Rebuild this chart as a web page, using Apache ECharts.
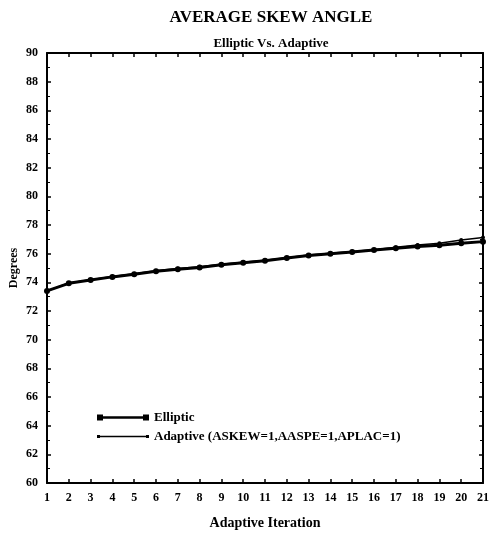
<!DOCTYPE html>
<html>
<head>
<meta charset="utf-8">
<script src="https://cdn.jsdelivr.net/npm/echarts@6/dist/echarts.min.js"></script>
<style>
html, body { margin: 0; padding: 0; background: #fff; }
#chart { width: 489px; height: 535px; }
</style>
</head>
<body>
<div id="chart"></div>
<script>
// iterations 1..21
const iterations = ['1', '2', '3', '4', '5', '6', '7', '8', '9', '10', '11', '12', '13', '14', '15', '16', '17', '18', '19', '20', '21']
const elliptic = [73.4, 73.93, 74.16, 74.38, 74.57, 74.77, 74.92, 75.04, 75.22, 75.37, 75.5, 75.7, 75.88, 76.0, 76.12, 76.25, 76.38, 76.5, 76.58, 76.72, 76.84]
const adaptive = [73.4, 73.95, 74.18, 74.4, 74.6, 74.8, 74.96, 75.08, 75.26, 75.4, 75.54, 75.72, 75.9, 76.03, 76.15, 76.28, 76.44, 76.6, 76.72, 76.95, 77.12]

const font = 'Liberation Serif'
const black = '#000'

const myChart = echarts.init(document.getElementById('chart'))

const tickStyle = { show: true, inside: true, length: 4, lineStyle: { color: black, width: 1.5 } }

myChart.setOption({
    animation: false,
    title: [
        {
            text: 'AVERAGE SKEW ANGLE',
            left: 266,
            top: 4,
            textAlign: 'center',
            textStyle: { fontFamily: font, fontWeight: 'bold', fontSize: 17, color: black }
        },
        {
            text: 'Elliptic Vs. Adaptive',
            left: 266,
            top: 32,
            textAlign: 'center',
            textStyle: { fontFamily: font, fontWeight: 'bold', fontSize: 13, color: black }
        }
    ],
    legend: {
        left: 92,
        top: 406,
        orient: 'vertical',
        itemWidth: 52,
        itemHeight: 8,
        itemGap: 6,
        textStyle: { fontFamily: font, fontWeight: 'bold', fontSize: 13, color: black },
        data: [
            { name: 'Elliptic', icon: 'path://M0,1h6v6h-6z M6,2.8h40v2.4h-40z M46,1h6v6h-6z' },
            { name: 'Adaptive (ASKEW=1,AASPE=1,APLAC=1)', icon: 'path://M0,2.5h3v3h-3z M3,3.3h46v1.4h-46z M49,2.5h3v3h-3z' }
        ]
    },
    grid: {
        left: 47,
        right: 6,
        top: 53,
        bottom: 52,
        containLabel: false,
        outerBoundsMode: 'none'
    },
    xAxis: [
        {
            type: 'category',
            data: iterations,
            boundaryGap: false,
            name: 'Adaptive Iteration',
            nameLocation: 'middle',
            nameGap: 33,
            nameTextStyle: { fontFamily: font, fontWeight: 'bold', fontSize: 14, color: black },
            axisLine: { lineStyle: { color: black, width: 2 } },
            axisTick: tickStyle,
            axisLabel: { interval: 0, margin: 9, fontFamily: font, fontWeight: 'bold', fontSize: 12, color: black },
            splitLine: { show: false }
        },
        {
            type: 'category',
            data: iterations,
            boundaryGap: false,
            position: 'top',
            axisLine: { lineStyle: { color: black, width: 2 } },
            axisTick: tickStyle,
            axisLabel: { show: false },
            splitLine: { show: false }
        }
    ],
    yAxis: [
        {
            type: 'value',
            min: 60,
            max: 90,
            interval: 2,
            name: 'Degrees',
            nameLocation: 'middle',
            nameGap: 27,
            nameMoveOverlap: false,
            nameTextStyle: { fontFamily: font, fontWeight: 'bold', fontSize: 12, color: black },
            axisLine: { show: true, lineStyle: { color: black, width: 2 } },
            axisTick: tickStyle,
            minorTick: { show: true, splitNumber: 2, length: 3, lineStyle: { color: black, width: 1 } },
            axisLabel: { margin: 9, fontFamily: font, fontWeight: 'bold', fontSize: 12, color: black },
            splitLine: { show: false }
        },
        {
            type: 'value',
            min: 60,
            max: 90,
            interval: 2,
            position: 'right',
            axisLine: { show: true, lineStyle: { color: black, width: 2 } },
            axisTick: tickStyle,
            minorTick: { show: true, splitNumber: 2, length: 3, lineStyle: { color: black, width: 1 } },
            axisLabel: { show: false },
            splitLine: { show: false }
        }
    ],
    series: [
        {
            name: 'Elliptic',
            type: 'line',
            data: elliptic,
            symbol: 'circle',
            symbolSize: 6,
            color: black,
            lineStyle: { color: black, width: 3 },
            itemStyle: { color: black }
        },
        {
            name: 'Adaptive (ASKEW=1,AASPE=1,APLAC=1)',
            type: 'line',
            data: adaptive,
            symbol: 'circle',
            symbolSize: 4,
            color: black,
            lineStyle: { color: black, width: 1.5 },
            itemStyle: { color: black }
        }
    ]
})
</script>
</body>
</html>
